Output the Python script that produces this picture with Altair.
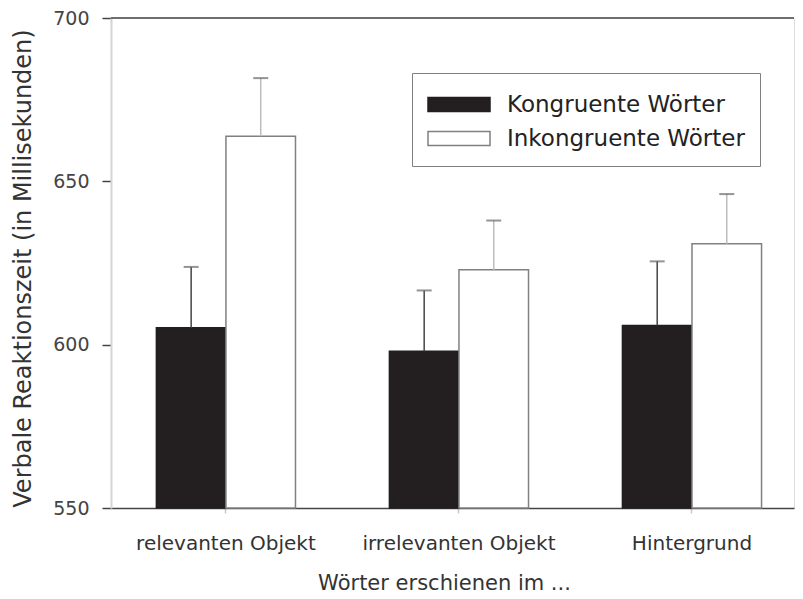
import altair as alt
import pandas as pd

categories = ["relevanten Objekt", "irrelevanten Objekt", "Hintergrund"]
series = ["Kongruente Wörter", "Inkongruente Wörter"]
kongruent_mean = [605.2, 598.0, 605.9]
kongruent_err = [18.6, 18.6, 19.6]
inkongruent_mean = [663.8, 622.9, 630.9]
inkongruent_err = [17.8, 15.1, 15.2]
y_ticks = [550, 600, 650, 700]

rows = []
for i, c in enumerate(categories):
    rows.append({"cat": c, "series": series[0], "mean": kongruent_mean[i],
                 "top": kongruent_mean[i] + kongruent_err[i]})
    rows.append({"cat": c, "series": series[1], "mean": inkongruent_mean[i],
                 "top": inkongruent_mean[i] + inkongruent_err[i]})
df = pd.DataFrame(rows)

FONT = "DejaVu Sans"

x = alt.X("cat:N", sort=categories,
          scale=alt.Scale(paddingInner=0.403, paddingOuter=0.167, align=0.583),
          axis=alt.Axis(title="Wörter erschienen im ...", labelAngle=0, labelLimit=0,
                        labelFont=FONT, labelFontSize=20, labelColor="#333",
                        labelPadding=20, tickSize=5, tickColor="#c8c8c8", tickWidth=1.5,
                        domainColor="#444", domainWidth=1.5,
                        titleFont=FONT, titleFontSize=21, titleFontWeight="normal",
                        titleColor="#333", titlePadding=19, titleX=333))
xo = alt.XOffset("series:N", sort=series,
                 scale=alt.Scale(domain=series, paddingInner=0, paddingOuter=0))
yscale = alt.Scale(domain=[550, 700], zero=False, nice=False)
y_axis = alt.Axis(values=y_ticks, title="Verbale Reaktionszeit (in Millisekunden)",
                  titleFont=FONT, titleFontSize=24, titleFontWeight="normal",
                  titleColor="#333", titlePadding=17, titleY=250,
                  labelFont=FONT, labelFontSize=19, labelColor="#444", labelPadding=13,
                  tickSize=9, tickColor="#444", tickWidth=1.5,
                  domainColor="#d4d4d4", domainWidth=2, grid=False)

base = alt.Chart(df)

bars = base.mark_bar(strokeWidth=1.5).encode(
    x=x, xOffset=xo,
    y=alt.Y("mean:Q", scale=yscale, axis=y_axis),
    y2=alt.datum(550),
    fill=alt.Fill("series:N", sort=series,
                  scale=alt.Scale(domain=series, range=["#231f20", "#ffffff"]),
                  legend=alt.Legend(title=None, orient="none", legendX=301, legendY=55,
                                    padding=15, strokeColor="#808080", fillColor="#ffffff",
                                    labelFont=FONT, labelFontSize=23, labelColor="#222",
                                    labelLimit=0, labelOffset=47, rowPadding=5,
                                    symbolType="M-1,-0.45H3V0.45H-1Z", symbolSize=961,
                                    symbolStrokeColor="#777", symbolStrokeWidth=1.5)),
    stroke=alt.Stroke("series:N", sort=series,
                      scale=alt.Scale(domain=series, range=["#231f20", "#808080"]),
                      legend=None),
)

err_k = base.transform_filter(alt.datum.series == series[0]).mark_rule(
    color="#444", strokeWidth=1.5).encode(x=x, xOffset=xo, y="mean:Q", y2="top:Q")
err_i = base.transform_filter(alt.datum.series == series[1]).mark_rule(
    color="#bdbdbd", strokeWidth=1.5).encode(x=x, xOffset=xo, y="mean:Q", y2="top:Q")
caps = base.mark_tick(orient="horizontal", size=15, thickness=2, color="#666").encode(
    x=x, xOffset=xo, y="top:Q")
top_line = alt.Chart(df).mark_rule(color="#6f6f6f", strokeWidth=1.5).encode(y=alt.datum(700))

chart = alt.layer(bars, err_k, err_i, caps, top_line).properties(
    width=683, height=490, padding={"left": 3, "top": 1, "right": 0, "bottom": 0}
).configure_view(stroke=None).configure(background="white")

chart.save("out.html", embed_options={"renderer": "svg", "actions": False})
